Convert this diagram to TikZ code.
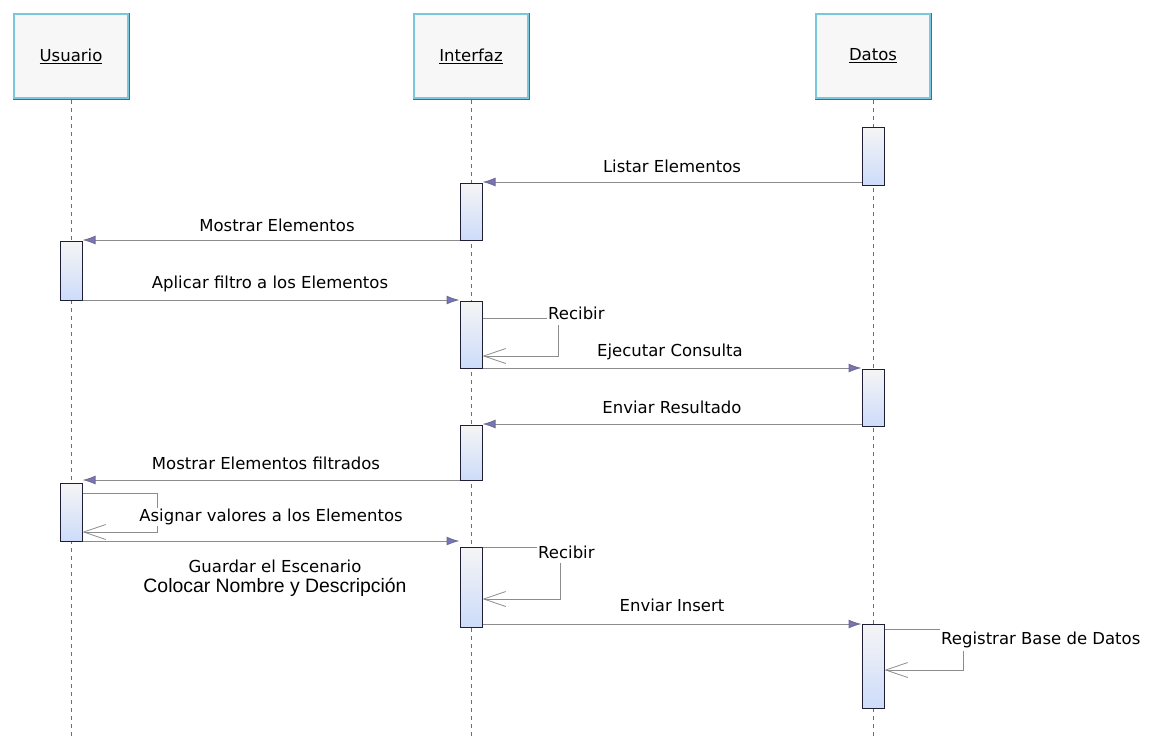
\documentclass[tikz,border=0pt]{standalone}
\usepackage{fontspec}
\setmainfont{DejaVu Sans}
\newfontfamily\noteface{Liberation Sans}
\usetikzlibrary{arrows.meta}
\definecolor{headedge}{RGB}{100,100,100}
\definecolor{headinner}{RGB}{120,200,220}
\definecolor{headfill}{RGB}{247,247,247}
\definecolor{lifec}{RGB}{110,110,110}
\definecolor{msgc}{RGB}{140,140,140}
\definecolor{tipc}{RGB}{120,115,190}
\definecolor{tipedge}{RGB}{110,110,140}
\definecolor{actedge}{RGB}{30,30,55}
\definecolor{actlow}{RGB}{205,220,250}
\begin{document}
\begin{tikzpicture}[x=1pt,y=-1pt,
  every node/.style={font=\fontsize{16.5}{19}\selectfont},
  head/.style={draw=headedge, line width=1pt, fill=headfill,
    minimum width=116pt, minimum height=86pt, inner sep=0pt},
  headrim/.style={headinner, line width=1.3pt},
  life/.style={lifec, line width=0.9pt, dash pattern=on 4pt off 4pt},
  act/.style={draw=actedge, line width=1pt, minimum width=22pt,
    inner sep=0pt, top color=gray!8, bottom color=actlow},
  msg/.style={msgc, line width=1pt,
    -{Latex[length=13pt,width=9pt,color=tipedge,fill=tipc]}},
  selfline/.style={msgc, line width=1pt},
  selfret/.style={msgc, line width=1pt,
    -{Straight Barb[length=22pt,width=15pt,line width=0.8pt]}},
  lbl/.style={inner sep=1pt}]
\useasboundingbox (0,0) rectangle (1153,737);

% lifeline heads, grey frame with a light cyan rim inside
\node[head] (usr) at (71,56)  {\underline{Usuario}};
\node[head] (ifz) at (471,56) {\underline{Interfaz}};
\node[head] (dat) at (873,56) {\underline{Datos}};
\foreach \h in {usr,ifz,dat}
  \draw[headrim] ([shift={(1.6,1.6)}]\h.north west)
    rectangle ([shift={(-1.6,-1.6)}]\h.south east);

% lifelines
\coordinate (usrend) at (71,737);
\coordinate (ifzend) at (471,737);
\coordinate (datend) at (873,737);
\draw[life] (usr.south) -- (usrend);
\draw[life] (ifz.south) -- (ifzend);
\draw[life] (dat.south) -- (datend);

% activation bars
\node[act, minimum height=58pt] (d1) at (873,156)   {};
\node[act, minimum height=57pt] (i1) at (471,211.5) {};
\node[act, minimum height=59pt] (u1) at (71,270.5)  {};
\node[act, minimum height=67pt] (i2) at (471,334.5) {};
\node[act, minimum height=57pt] (d2) at (873,397.5) {};
\node[act, minimum height=55pt] (i3) at (471,452.5) {};
\node[act, minimum height=58pt] (u2) at (71,512)    {};
\node[act, minimum height=80pt] (i4) at (471,587)   {};
\node[act, minimum height=84pt] (d3) at (873,666)   {};

% messages
\draw[msg] (d1.west |- 0,182) -- (i1.east |- 0,182);
\node[lbl] (m1) at (672,166) {Listar Elementos};

\draw[msg] (i1.west |- 0,240) -- (u1.east |- 0,240);
\node[lbl] (m2) at (277,225) {Mostrar Elementos};

\draw[msg] (u1.east |- 0,300) -- (i2.west |- 0,300);
\node[lbl] (m3) at (270,284) {Aplicar filtro a los Elementos};

\node[lbl, anchor=west] (r1) at (547,313) {Recibir};
\coordinate (r1top) at (558,325);
\coordinate (r1bot) at (558,356);
\draw[selfline] (i2.east |- 0,318) -- (r1.west |- 0,318);
\draw[selfret] (r1top) -- (r1bot) -- (i2.east |- r1bot);

\draw[msg] (i2.east |- 0,368) -- (d2.west |- 0,368);
\node[lbl] (m4) at (670,352) {Ejecutar Consulta};

\draw[msg] (d2.west |- 0,424) -- (i3.east |- 0,424);
\node[lbl] (m5) at (672,407) {Enviar Resultado};

\draw[msg] (i3.west |- 0,480) -- (u2.east |- 0,480);
\node[lbl] (m6) at (266,463) {Mostrar Elementos filtrados};

\coordinate (a1) at (157,493);
\coordinate (a2) at (157,532);
\draw[selfline] (u2.east |- a1) -- (a1);
\draw[selfret] (a1) -- (a2) -- (u2.east |- a2);
\node[lbl, fill=white] (m7) at (271,517) {Asignar valores a los Elementos};

\draw[msg] (u2.east |- 0,541) -- (i4.west |- 0,541);
\node[lbl] (m8) at (275,566) {Guardar el Escenario};
\node[lbl, font=\noteface\fontsize{19.4}{22}\selectfont] (m9) at (275,587)
  {Colocar Nombre y Descripción};

\node[lbl, anchor=west] (r2) at (537,552) {Recibir};
\coordinate (r2top) at (560,563);
\coordinate (r2bot) at (560,599);
\draw[selfline] (i4.east |- 0,547) -- (r2.west |- 0,547);
\draw[selfret] (r2top) -- (r2bot) -- (i4.east |- r2bot);

\draw[msg] (i4.east |- 0,624) -- (d3.west |- 0,624);
\node[lbl] (m10) at (672,605) {Enviar Insert};

\node[lbl, anchor=west] (r3) at (940,640) {Registrar Base de Datos};
\coordinate (r3top) at (963,651);
\coordinate (r3bot) at (963,670);
\draw[selfline] (d3.east |- 0,629) -- (r3.west |- 0,629);
\draw[selfret] (r3top) -- (r3bot) -- (d3.east |- r3bot);
\end{tikzpicture}
\end{document}
